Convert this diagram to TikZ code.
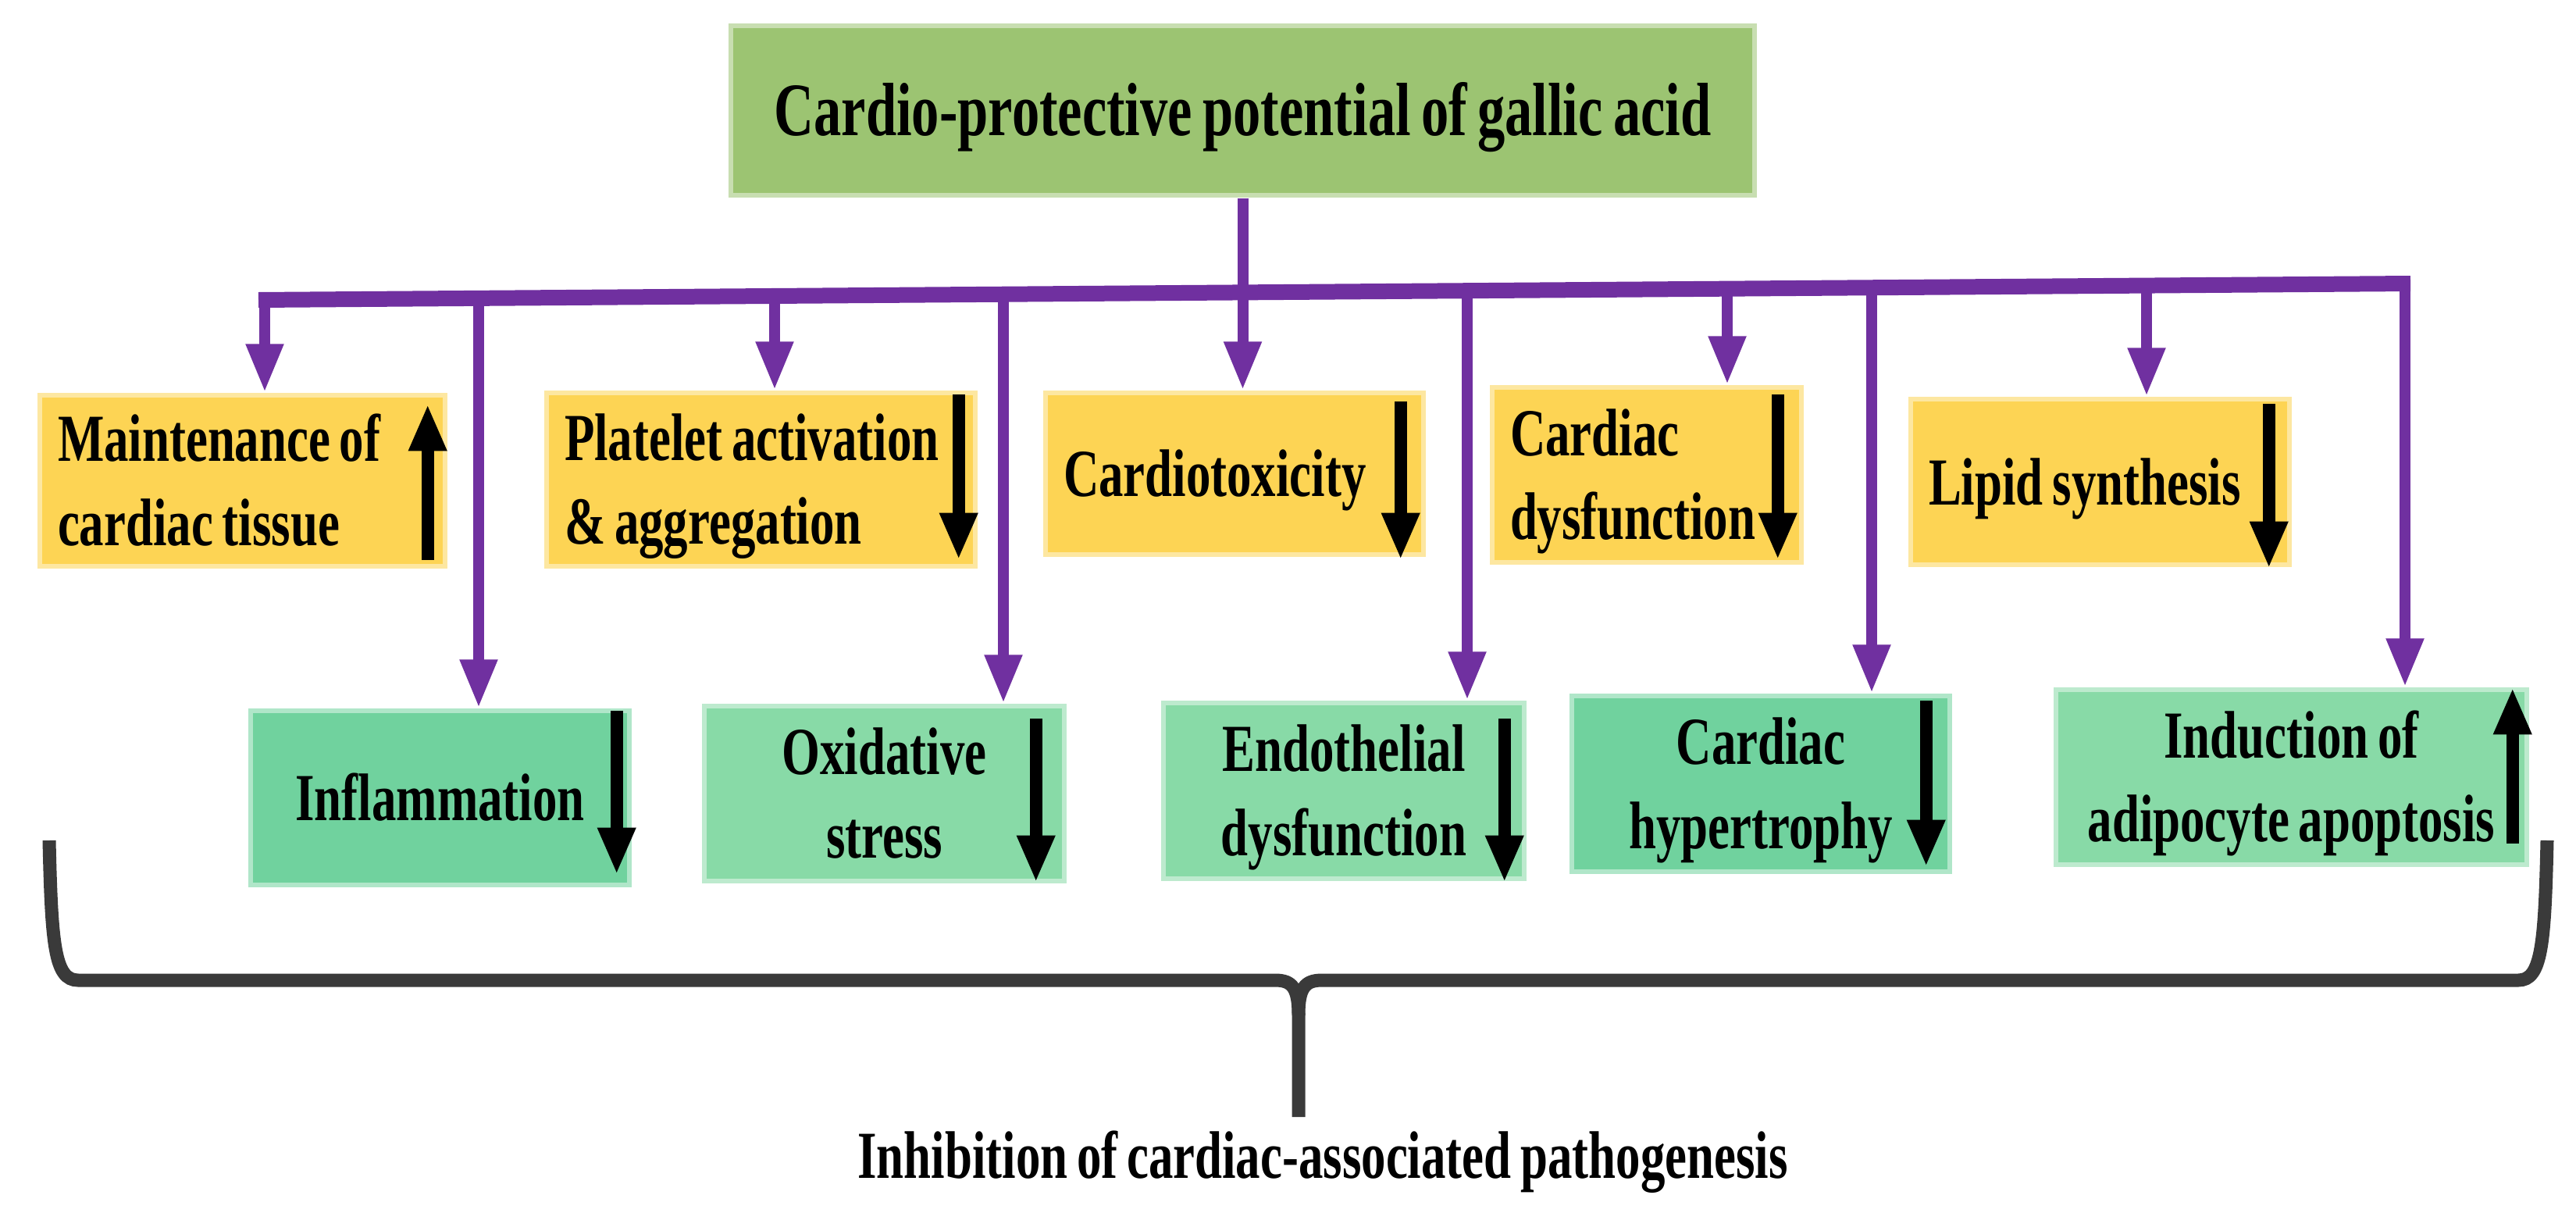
\documentclass[tikz,border=0pt]{standalone}
\usepackage{fontspec}
\setmainfont{Liberation Serif}[FakeStretch=0.73,WordSpace=0.75]
\usetikzlibrary{arrows.meta}
\definecolor{titlegreen}{HTML}{9CC472}
\definecolor{boxyellow}{HTML}{FDD454}
\definecolor{greenA}{HTML}{70D29E}
\definecolor{greenB}{HTML}{88DAA7}
\definecolor{lineviolet}{HTML}{7030A0}
\definecolor{bracegray}{HTML}{3A3A3A}
% line struts, so that every line gets the full font height
\newcommand{\bx}{\rule[-0.19cm]{0pt}{0.96cm}}
\newcommand{\tx}{\rule[-0.21cm]{0pt}{1.07cm}}

\begin{document}
\begin{tikzpicture}[
  bevel/.style={path picture={\draw[white,opacity=.45,line width=.12cm]
      (path picture bounding box.south west) rectangle (path picture bounding box.north east);}},
  ybox/.style={rectangle,fill=boxyellow,bevel,inner xsep=.26cm,inner ysep=0pt,align=flush left,
      font=\bfseries\fontsize{24.5}{30.7}\selectfont},
  gbox/.style={rectangle,fill=#1,bevel,inner sep=0pt,align=center,
      font=\bfseries\fontsize{24.5}{30.7}\selectfont},
  pline/.style={draw=lineviolet,line width=.14cm},
  parrow/.style={pline,-{Triangle[width=.45cm,length=.62cm]}},
  barrow/.style={draw=black,line width=.16cm,-{Triangle[width=.45cm,length=.6cm]}},
  bracket/.style={draw=bracegray,line width=.17cm},
]
  \useasboundingbox (0,0) rectangle (32.99,-15.53);

  % top box
  \node[rectangle,fill=titlegreen,bevel,inner sep=0pt,minimum width=13.17cm,minimum height=2.23cm,
        font=\bfseries\fontsize{27.5}{33}\selectfont](gal) at (15.915,-1.415)
        {\tx Cardio-protective potential of gallic acid};

  % upper row
  \node[ybox,text width=4.73cm,minimum height=2.25cm](mt) at (3.105,-6.155) {\bx Maintenance of\\\bx cardiac tissue};
  \node[ybox,text width=5.03cm,minimum height=2.28cm](pa) at (9.745,-6.14) {\bx Platelet activation\\\bx \& aggregation};
  \node[ybox,text width=4.38cm,minimum height=2.13cm](ct) at (15.81,-6.065) {\bx Cardiotoxicity};
  \node[ybox,text width=3.50cm,minimum height=2.30cm](cd) at (21.09,-6.08) {\bx Cardiac\\\bx dysfunction};
  \node[ybox,text width=4.39cm,minimum height=2.18cm](ls) at (26.895,-6.17) {\bx Lipid synthesis};

  % lower row
  \node[gbox=greenA,minimum width=4.91cm,minimum height=2.29cm](im) at (5.635,-10.215) {\bx Inflammation};
  \node[gbox=greenB,minimum width=4.67cm,minimum height=2.30cm](os) at (11.325,-10.16) {\bx Oxidative\\\bx stress};
  \node[gbox=greenB,minimum width=4.68cm,minimum height=2.31cm](ed) at (17.21,-10.125) {\bx Endothelial\\\bx dysfunction};
  \node[gbox=greenA,minimum width=4.90cm,minimum height=2.31cm](ch) at (22.55,-10.035) {\bx Cardiac\\\bx hypertrophy};
  \node[gbox=greenB,minimum width=6.09cm,minimum height=2.30cm](ia) at (29.345,-9.95) {\bx Induction of\\\bx adipocyte apoptosis};

  % distribution bar
  \coordinate(bL) at (3.31,-3.84);
  \coordinate(bR) at (30.87,-3.63);
  \draw[pline,line width=.20cm] (bL) -- (bR);
  \coordinate(j1) at (3.39,-3.84);
  \coordinate(j2) at (6.13,-3.82);
  \coordinate(j3) at (9.92,-3.79);
  \coordinate(j4) at (12.85,-3.77);
  \coordinate(j5) at (15.915,-3.74);
  \coordinate(j6) at (18.79,-3.72);
  \coordinate(j7) at (22.12,-3.70);
  \coordinate(j8) at (23.97,-3.68);
  \coordinate(j9) at (27.49,-3.66);
  \coordinate(j10) at (30.80,-3.63);

  \draw[pline] (gal.south) -- (j5);
  \draw[parrow] (j1) -- (j1 |- mt.north);
  \draw[parrow] (j2) -- (j2 |- im.north);
  \draw[parrow] (j3) -- (j3 |- pa.north);
  \draw[parrow] (j4) -- (j4 |- os.north);
  \draw[parrow] (j5) -- (j5 |- ct.north);
  \draw[parrow] (j6) -- (j6 |- ed.north);
  \draw[parrow] (j7) -- (j7 |- cd.north);
  \draw[parrow] (j8) -- (j8 |- ch.north);
  \draw[parrow] (j9) -- (j9 |- ls.north);
  \draw[parrow] (j10) -- (j10 |- ia.north);

  % up / down marks
  \draw[barrow] ([xshift=-.26cm,yshift=.12cm]mt.south east) -- ([xshift=-.26cm,yshift=-.15cm]mt.north east);
  \draw[barrow] ([xshift=-.25cm,yshift=-.06cm]pa.north east) -- ([xshift=-.25cm,yshift=.12cm]pa.south east);
  \draw[barrow] ([xshift=-.33cm,yshift=-.15cm]ct.north east) -- ([xshift=-.33cm,yshift=-.03cm]ct.south east);
  \draw[barrow] ([xshift=-.34cm,yshift=-.13cm]cd.north east) -- ([xshift=-.34cm,yshift=.07cm]cd.south east);
  \draw[barrow] ([xshift=-.30cm,yshift=-.10cm]ls.north east) -- ([xshift=-.30cm,yshift=-.01cm]ls.south east);
  \draw[barrow] ([xshift=-.20cm,yshift=-.04cm]im.north east) -- ([xshift=-.20cm,yshift=.17cm]im.south east);
  \draw[barrow] ([xshift=-.40cm,yshift=-.20cm]os.north east) -- ([xshift=-.40cm,yshift=.02cm]os.south east);
  \draw[barrow] ([xshift=-.29cm,yshift=-.24cm]ed.north east) -- ([xshift=-.29cm,yshift=-.01cm]ed.south east);
  \draw[barrow] ([xshift=-.34cm,yshift=-.10cm]ch.north east) -- ([xshift=-.34cm,yshift=.10cm]ch.south east);
  \draw[barrow] ([xshift=-.22cm,yshift=.31cm]ia.south east) -- ([xshift=-.22cm,yshift=-.01cm]ia.north east);

  % brace and conclusion
  \draw[bracket] (0.63,-10.76) .. controls (0.66,-12.1) and (0.70,-12.55) .. (1.00,-12.55)
    -- (16.33,-12.55) .. controls (16.55,-12.55) and (16.63,-12.65) .. (16.63,-13.0)
    -- (16.63,-14.30);
  \draw[bracket] (16.63,-13.0) .. controls (16.63,-12.65) and (16.71,-12.55) .. (16.93,-12.55)
    -- (32.25,-12.55) .. controls (32.55,-12.55) and (32.59,-12.1) .. (32.62,-10.76);
  \node[font=\bfseries\fontsize{24.5}{30.7}\selectfont,anchor=base](inh) at (16.94,-15.08)
    {Inhibition of cardiac-associated pathogenesis};

\end{tikzpicture}
\end{document}
